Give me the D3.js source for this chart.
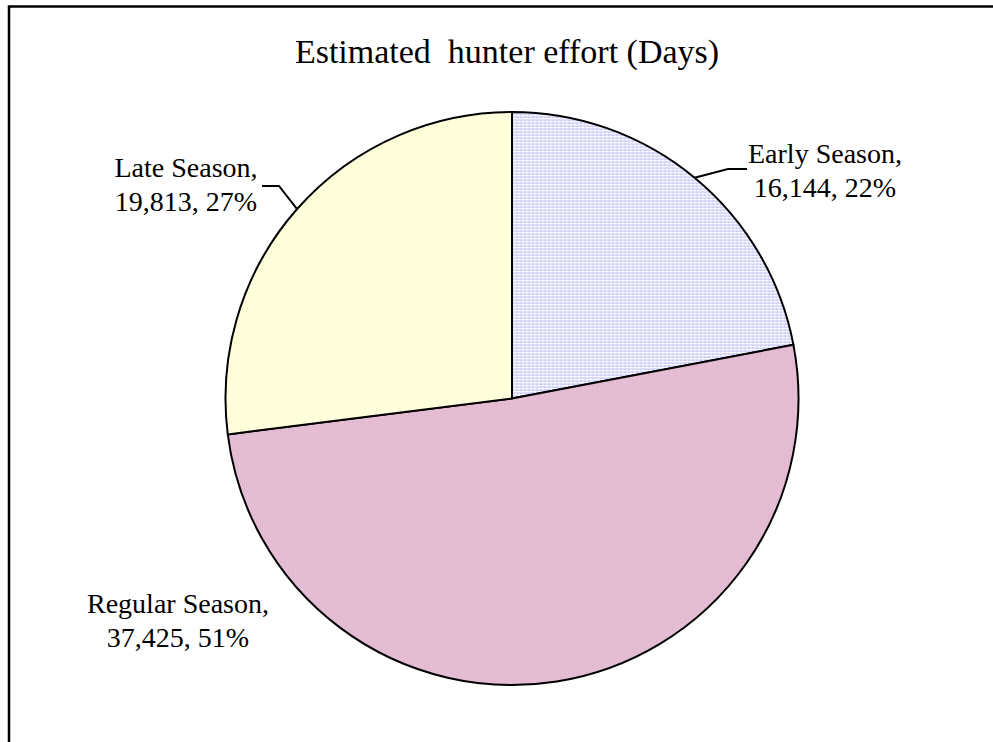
<!DOCTYPE html>
<html>
<head>
<meta charset="utf-8">
<script src="https://d3js.org/d3.v7.min.js"></script>
<style>
  body { margin: 0; background: #fff; }
  text { font-family: "Liberation Serif", "Times New Roman", serif; fill: #000; }
</style>
</head>
<body>
<script>
var seasons = ["Early Season", "Regular Season", "Late Season"];
var effortDays = [16144, 37425, 19813];
var titleText = "Estimated\u00a0 hunter effort (Days)";

var canvasWidth = 993,
    canvasHeight = 742;

var baseCanvas = d3.select("body")
                .append("svg")
                .attr("id", "canvas")
                .attr("width", canvasWidth)
                .attr("height", canvasHeight);

// fill patterns, like the old excel hatch fills
var defs = baseCanvas.append("defs");

var p0 = defs.append("pattern").attr("id", "pat0")
        .attr("patternUnits", "userSpaceOnUse").attr("width", 4).attr("height", 3);
p0.append("rect").attr("width", 4).attr("height", 3).attr("fill", "#ffffff");
p0.append("rect").attr("width", 4).attr("height", 1).attr("fill", "#bcbcf4");
p0.append("rect").attr("y", 1).attr("width", 2).attr("height", 1).attr("fill", "#dcdcfa");

var p1 = defs.append("pattern").attr("id", "pat1")
        .attr("patternUnits", "userSpaceOnUse").attr("width", 2).attr("height", 2);
p1.append("rect").attr("width", 2).attr("height", 2).attr("fill", "#f3dbe8");
p1.append("rect").attr("width", 1).attr("height", 1).attr("fill", "#cf94b6");
p1.append("rect").attr("x", 1).attr("y", 1).attr("width", 1).attr("height", 1).attr("fill", "#d9a6c3");

var p2 = defs.append("pattern").attr("id", "pat2")
        .attr("patternUnits", "userSpaceOnUse").attr("width", 2).attr("height", 2);
p2.append("rect").attr("width", 2).attr("height", 2).attr("fill", "#ffffe8");
p2.append("rect").attr("width", 1).attr("height", 1).attr("fill", "#ffffc6");
p2.append("rect").attr("x", 1).attr("y", 1).attr("width", 1).attr("height", 1).attr("fill", "#ffffd2");

var canvasBorder = baseCanvas.append("rect")
        .attr("x", 9)
        .attr("y", 6.5)
        .attr("width", canvasWidth + 20)
        .attr("height", canvasHeight + 20)
        .style("fill", "none")
        .style("stroke", "black")
        .style("stroke-width", 2.5);

baseCanvas.append("text")
        .attr("x", 507)
        .attr("y", 63)
        .attr("text-anchor", "middle")
        .style("font-size", "34px")
        .text(titleText);

var cx = 512, cy = 398.5, radius = 286.5;
var total = d3.sum(effortDays);

var pie = d3.pie().sort(null).value(function(d) { return d.value; });
var arcs = pie(seasons.map(function(s, i) { return {name: s, value: effortDays[i]}; }));

var arc = d3.arc().innerRadius(0).outerRadius(radius);
var edgeArc = d3.arc().innerRadius(radius).outerRadius(radius);

var pieGroup = baseCanvas.append("g")
        .attr("transform", "translate(" + cx + "," + cy + ")");

pieGroup.selectAll("path.slice")
        .data(arcs)
        .enter()
        .append("path")
        .attr("class", "slice")
        .attr("d", arc)
        .style("fill", function(d, i) { return "url(#pat" + i + ")"; })
        .style("stroke", "black")
        .style("stroke-width", 2)
        .style("stroke-linejoin", "round");

var fmt = d3.format(",");

// where excel put the labels (page coords); elbow/end are the leader line
var labelInfo = [
  {x: 825, y: 163, elbow: [728, 169], end: [747, 169]},
  {x: 178, y: 613},
  {x: 186, y: 177, elbow: [279, 186], end: [262, 186]}
];

arcs.forEach(function(d, i) {
  var info = labelInfo[i];
  if (info.elbow) {
    var p1 = edgeArc.centroid(d);
    var p2 = [info.elbow[0] - cx, info.elbow[1] - cy];
    var p3 = [info.end[0] - cx, info.end[1] - cy];
    pieGroup.append("polyline")
        .attr("points", [p1, p2, p3].map(function(p) { return p.join(","); }).join(" "))
        .style("fill", "none")
        .style("stroke", "black")
        .style("stroke-width", 2);
  }
  var t = baseCanvas.append("text")
        .attr("text-anchor", "middle")
        .style("font-size", "28px");
  t.append("tspan").attr("x", info.x).attr("y", info.y).text(d.data.name + ",");
  t.append("tspan").attr("x", info.x).attr("dy", 34)
        .text(fmt(d.data.value) + ", " + Math.round(d.data.value / total * 100) + "%");
});
</script>
</body>
</html>
